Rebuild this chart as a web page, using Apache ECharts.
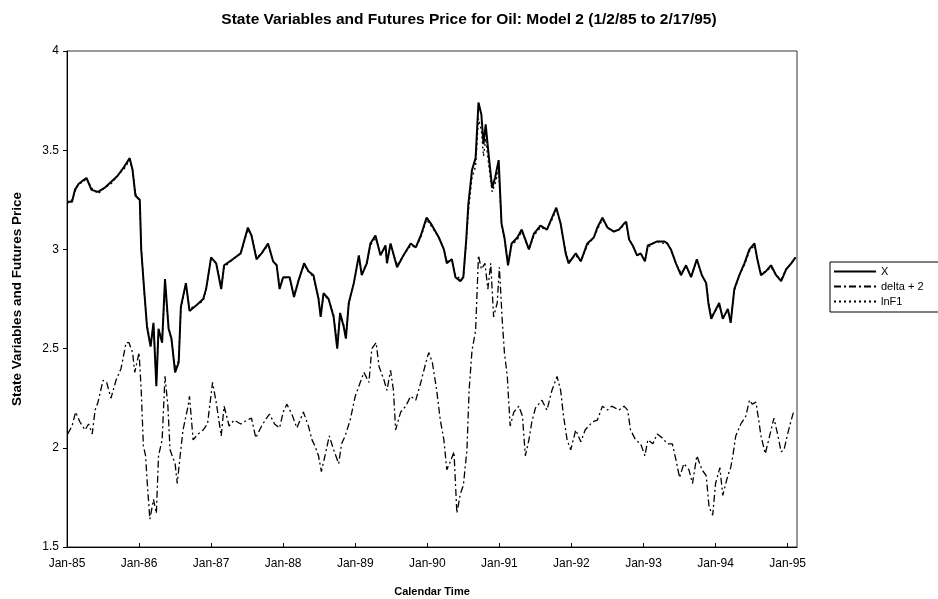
<!DOCTYPE html>
<html>
<head>
<meta charset="utf-8">
<script src="https://cdn.jsdelivr.net/npm/echarts@6/dist/echarts.min.js"></script>
<style>
  html, body { margin: 0; padding: 0; background: #fff; }
  #chart { width: 938px; height: 599px; }
</style>
</head>
<body>
<div id="chart"></div>
<script>
  // time in decimal years (1985.0 = Jan-85)
  var xTimes = [
    1985.00, 1985.07, 1985.11, 1985.16, 1985.23, 1985.27, 1985.34, 1985.43, 1985.52, 1985.61,
    1985.70, 1985.80, 1985.87, 1985.91, 1985.95, 1986.01, 1986.03, 1986.07, 1986.11, 1986.16,
    1986.20, 1986.24, 1986.27, 1986.32, 1986.36, 1986.41, 1986.45, 1986.50, 1986.55, 1986.58,
    1986.65, 1986.70, 1986.80, 1986.89, 1986.93, 1987.00, 1987.07, 1987.14, 1987.18, 1987.30,
    1987.41,
    1987.51, 1987.56, 1987.63, 1987.70, 1987.79, 1987.86, 1987.91, 1987.95, 1988.00, 1988.09,
    1988.15, 1988.21, 1988.29, 1988.35, 1988.42, 1988.49, 1988.52, 1988.56, 1988.63, 1988.70,
    1988.75, 1988.79, 1988.84, 1988.87, 1988.91, 1988.98, 1989.05, 1989.09, 1989.16, 1989.21,
    1989.28, 1989.35, 1989.42, 1989.44, 1989.49, 1989.58, 1989.67, 1989.77, 1989.84, 1989.91,
    1989.99,
    1990.05, 1990.16, 1990.23, 1990.27, 1990.34, 1990.39, 1990.46, 1990.50, 1990.54, 1990.57,
    1990.62, 1990.67, 1990.71, 1990.75, 1990.78, 1990.81, 1990.85, 1990.90, 1990.94, 1990.99,
    1991.03, 1991.07, 1991.12, 1991.17, 1991.25, 1991.31, 1991.41, 1991.48, 1991.57, 1991.66,
    1991.73, 1991.79, 1991.85, 1991.92, 1991.96, 1992.06, 1992.13, 1992.22, 1992.31, 1992.36,
    1992.43, 1992.50, 1992.59,
    1992.66, 1992.73, 1992.76, 1992.80, 1992.85, 1992.91, 1992.96, 1993.02, 1993.06, 1993.13,
    1993.19, 1993.29, 1993.33, 1993.38, 1993.45, 1993.52, 1993.59, 1993.66, 1993.74, 1993.81,
    1993.87, 1993.90, 1993.94, 1993.98, 1994.05, 1994.10, 1994.17, 1994.21, 1994.26, 1994.33,
    1994.40, 1994.47, 1994.54, 1994.58, 1994.63, 1994.70, 1994.77, 1994.84, 1994.91, 1994.98,
    1995.05, 1995.11
  ];

  var xValues = [
    3.24, 3.24, 3.30, 3.33, 3.35, 3.36, 3.30, 3.29, 3.31, 3.34,
    3.37, 3.42, 3.46, 3.40, 3.27, 3.25, 3.00, 2.80, 2.61, 2.51,
    2.63, 2.31, 2.60, 2.53, 2.85, 2.60, 2.55, 2.38, 2.43, 2.71,
    2.83, 2.69, 2.72, 2.75, 2.80, 2.96, 2.93, 2.80, 2.92, 2.95,
    2.98,
    3.11, 3.07, 2.95, 2.98, 3.03, 2.94, 2.92, 2.80, 2.86, 2.86,
    2.76, 2.84, 2.93, 2.89, 2.87, 2.75, 2.66, 2.78, 2.75, 2.66,
    2.50, 2.68, 2.61, 2.55, 2.73, 2.83, 2.97, 2.87, 2.93, 3.03,
    3.07, 2.97, 3.02, 2.93, 3.03, 2.91, 2.97, 3.03, 3.01, 3.07,
    3.16,
    3.13, 3.06, 3.00, 2.93, 2.95, 2.86, 2.84, 2.86, 3.05, 3.23,
    3.40, 3.46, 3.74, 3.68, 3.53, 3.63, 3.48, 3.31, 3.36, 3.45,
    3.13, 3.06, 2.92, 3.03, 3.06, 3.10, 3.00, 3.08, 3.12, 3.10,
    3.16, 3.21, 3.13, 2.98, 2.93, 2.98, 2.94, 3.03, 3.06, 3.11,
    3.16, 3.11, 3.09,
    3.10, 3.13, 3.14, 3.05, 3.02, 2.97, 2.98, 2.94, 3.02, 3.03,
    3.04, 3.04, 3.03, 3.00, 2.93, 2.87, 2.92, 2.86, 2.95, 2.87,
    2.83, 2.73, 2.65, 2.68, 2.73, 2.65, 2.70, 2.63, 2.80, 2.87,
    2.93, 3.00, 3.03, 2.95, 2.87, 2.89, 2.92, 2.87, 2.84, 2.90,
    2.93, 2.96
  ];

  var lnF1Values = [
    3.23, 3.25, 3.29, 3.33, 3.34, 3.36, 3.31, 3.28, 3.31, 3.33,
    3.37, 3.41, 3.45, 3.40, 3.28, 3.24, 3.01, 2.79, 2.62, 2.52,
    2.62, 2.34, 2.58, 2.54, 2.82, 2.61, 2.54, 2.40, 2.44, 2.70,
    2.82, 2.70, 2.72, 2.74, 2.80, 2.95, 2.93, 2.81, 2.91, 2.95,
    2.98,
    3.10, 3.07, 2.96, 2.98, 3.02, 2.94, 2.92, 2.81, 2.86, 2.85,
    2.77, 2.84, 2.92, 2.89, 2.86, 2.76, 2.67, 2.77, 2.75, 2.67,
    2.52, 2.67, 2.62, 2.56, 2.72, 2.83, 2.96, 2.88, 2.93, 3.02,
    3.06, 2.98, 3.01, 2.94, 3.02, 2.92, 2.97, 3.02, 3.01, 3.06,
    3.15,
    3.12, 3.06, 3.00, 2.94, 2.95, 2.87, 2.85, 2.86, 3.03, 3.19,
    3.36, 3.42, 3.66, 3.60, 3.47, 3.56, 3.43, 3.29, 3.33, 3.40,
    3.12, 3.05, 2.93, 3.02, 3.05, 3.09, 3.00, 3.07, 3.11, 3.10,
    3.15, 3.20, 3.13, 2.99, 2.94, 2.97, 2.94, 3.02, 3.06, 3.10,
    3.15, 3.11, 3.09,
    3.10, 3.12, 3.13, 3.05, 3.02, 2.97, 2.98, 2.95, 3.01, 3.03,
    3.04, 3.03, 3.03, 3.00, 2.93, 2.88, 2.91, 2.87, 2.94, 2.87,
    2.83, 2.74, 2.66, 2.68, 2.72, 2.66, 2.69, 2.64, 2.79, 2.87,
    2.92, 2.99, 3.02, 2.95, 2.88, 2.89, 2.91, 2.87, 2.85, 2.90,
    2.93, 2.96
  ];

  var deltaTimes = [
    1985.01, 1985.07, 1985.12, 1985.18, 1985.25, 1985.30, 1985.35, 1985.39, 1985.43, 1985.50,
    1985.55, 1985.61, 1985.68, 1985.75, 1985.82, 1985.86, 1985.91, 1985.94, 1986.00, 1986.03,
    1986.06, 1986.09, 1986.12, 1986.15, 1986.20, 1986.24, 1986.27, 1986.32, 1986.36, 1986.40,
    1986.43, 1986.50, 1986.53, 1986.57, 1986.61, 1986.68, 1986.70, 1986.75, 1986.82, 1986.89,
    1986.95, 1987.02, 1987.07, 1987.14, 1987.18, 1987.25, 1987.32, 1987.41, 1987.50,
    1987.56, 1987.62, 1987.70, 1987.77, 1987.81, 1987.88, 1987.95, 1988.00, 1988.05, 1988.12,
    1988.19, 1988.28, 1988.35, 1988.40, 1988.44, 1988.49, 1988.53, 1988.58, 1988.64, 1988.70,
    1988.77, 1988.81, 1988.86, 1988.93, 1989.00, 1989.07, 1989.12, 1989.19, 1989.23, 1989.29,
    1989.33, 1989.40, 1989.44, 1989.49, 1989.53, 1989.56, 1989.63, 1989.70, 1989.77, 1989.84,
    1989.91, 1989.98, 1990.02,
    1990.07, 1990.13, 1990.18, 1990.23, 1990.27, 1990.32, 1990.37, 1990.41, 1990.46, 1990.50,
    1990.55, 1990.58, 1990.62, 1990.67, 1990.71, 1990.75, 1990.80, 1990.84, 1990.88, 1990.92,
    1990.97, 1991.00, 1991.04, 1991.07, 1991.11, 1991.13, 1991.15, 1991.20, 1991.27, 1991.32,
    1991.36, 1991.41, 1991.45, 1991.50, 1991.59, 1991.66, 1991.73, 1991.80, 1991.85, 1991.89,
    1991.94, 1991.99, 1992.06, 1992.13, 1992.19, 1992.29, 1992.36, 1992.43, 1992.50, 1992.56,
    1992.66, 1992.73, 1992.78, 1992.82, 1992.89, 1992.96, 1993.02, 1993.06, 1993.13, 1993.19,
    1993.26, 1993.33, 1993.40, 1993.45, 1993.50, 1993.56, 1993.63, 1993.68, 1993.74, 1993.81,
    1993.87, 1993.91, 1993.96, 1994.00, 1994.06, 1994.10, 1994.17, 1994.21, 1994.24, 1994.28,
    1994.35, 1994.42, 1994.47, 1994.51, 1994.56, 1994.59, 1994.63, 1994.69, 1994.75, 1994.81,
    1994.86, 1994.91, 1994.95, 1995.00, 1995.05, 1995.09
  ];

  var deltaValues = [
    2.07, 2.11, 2.18, 2.13, 2.09, 2.12, 2.07, 2.19, 2.23, 2.34,
    2.33, 2.25, 2.34, 2.40, 2.53, 2.53, 2.48, 2.38, 2.48, 2.29,
    2.01, 1.96, 1.79, 1.64, 1.74, 1.67, 1.96, 2.04, 2.36, 2.21,
    1.99, 1.92, 1.82, 1.96, 2.09, 2.21, 2.26, 2.04, 2.07, 2.09,
    2.12, 2.33, 2.23, 2.06, 2.21, 2.11, 2.14, 2.12, 2.14,
    2.15, 2.05, 2.11, 2.15, 2.17, 2.12, 2.10, 2.18, 2.22, 2.17,
    2.10, 2.18, 2.11, 2.04, 2.01, 1.96, 1.88, 1.96, 2.06, 1.99,
    1.92, 2.02, 2.06, 2.14, 2.26, 2.33, 2.38, 2.33, 2.50, 2.53,
    2.41, 2.34, 2.29, 2.39, 2.29, 2.09, 2.18, 2.21, 2.26, 2.24,
    2.33, 2.43, 2.48,
    2.43, 2.29, 2.14, 2.04, 1.89, 1.93, 1.98, 1.67, 1.77, 1.81,
    1.99, 2.29, 2.49, 2.59, 2.97, 2.90, 2.93, 2.80, 2.93, 2.66,
    2.73, 2.91, 2.64, 2.48, 2.36, 2.23, 2.11, 2.18, 2.21, 2.16,
    1.96, 2.04, 2.13, 2.20, 2.24, 2.19, 2.29, 2.36, 2.29, 2.16,
    2.04, 1.99, 2.09, 2.03, 2.09, 2.13, 2.14, 2.21, 2.19, 2.21,
    2.19, 2.21, 2.19, 2.09, 2.04, 2.02, 1.96, 2.04, 2.02, 2.07,
    2.05, 2.02, 2.02, 1.94, 1.85, 1.92, 1.89, 1.82, 1.96, 1.89,
    1.86, 1.70, 1.66, 1.82, 1.90, 1.76, 1.86, 1.90, 1.96, 2.06,
    2.12, 2.16, 2.24, 2.22, 2.23, 2.16, 2.06, 1.97, 2.06, 2.15,
    2.07, 1.98, 1.99, 2.07, 2.14, 2.19
  ];

  var yTicks = [1.5, 2, 2.5, 3, 3.5, 4];

  function pairs(ts, vs) {
    return ts.map(function (t, i) { return [t, vs[i]]; });
  }

  var font = '"Liberation Sans", Arial, sans-serif';
  var chart = echarts.init(document.getElementById('chart'));

  chart.setOption({
    animation: false,
    backgroundColor: '#fff',
    title: {
      text: 'State Variables and Futures Price for Oil: Model 2 (1/2/85 to 2/17/95)',
      left: 'center',
      top: 7,
      textStyle: { fontFamily: font, fontSize: 15.5, fontWeight: 'bold', color: '#000' }
    },
    legend: {
      orient: 'vertical',
      left: 830,
      top: 262,
      itemWidth: 42,
      itemHeight: 10,
      itemGap: 4,
      padding: [4, 20, 5, 3],
      borderColor: '#000',
      borderWidth: 1,
      itemStyle: { color: 'rgba(0,0,0,0)', borderWidth: 0 },
      textStyle: { fontFamily: font, fontSize: 11, color: '#000' },
      data: ['X', 'delta + 2', 'lnF1']
    },
    grid: {
      left: 67,
      right: 141,
      top: 51,
      bottom: 52,
      outerBoundsMode: 'none',
      show: true,
      borderColor: '#333',
      borderWidth: 1
    },
    xAxis: {
      type: 'value',
      min: 1985,
      max: 1995.13,
      interval: 1,
      name: 'Calendar Time',
      nameLocation: 'middle',
      nameGap: 39,
      nameTextStyle: { fontFamily: font, fontSize: 11, fontWeight: 'bold', color: '#000' },
      axisLine: { lineStyle: { color: '#000' } },
      axisTick: { inside: true, length: 4, lineStyle: { color: '#000' } },
      splitLine: { show: false },
      axisLabel: {
        margin: 11,
        showMaxLabel: false,
        fontFamily: font,
        fontSize: 12,
        color: '#000',
        formatter: function (v) {
          if (Math.abs(v - Math.round(v)) > 0.001) return '';
          return 'Jan-' + String(Math.round(v)).slice(2);
        }
      }
    },
    yAxis: {
      type: 'value',
      min: yTicks[0],
      max: yTicks[yTicks.length - 1],
      interval: 0.5,
      name: 'State Variables and Futures Price',
      nameLocation: 'middle',
      nameGap: 43,
      nameTextStyle: { fontFamily: font, fontSize: 13.5, fontWeight: 'bold', color: '#000' },
      axisLine: { show: true, lineStyle: { color: '#000' } },
      axisTick: { show: true, length: 4, lineStyle: { color: '#000' } },
      splitLine: { show: false },
      axisLabel: { margin: 8, fontFamily: font, fontSize: 12, color: '#000' }
    },
    series: [
      {
        name: 'X',
        type: 'line',
        symbol: 'none',
        data: pairs(xTimes, xValues),
        lineStyle: { color: '#000', width: 2 },
        itemStyle: { color: '#000' }
      },
      {
        name: 'delta + 2',
        type: 'line',
        symbol: 'none',
        data: pairs(deltaTimes, deltaValues),
        lineStyle: { color: '#000', width: 1.3, type: [7, 3, 2, 3] },
        itemStyle: { color: '#000' }
      },
      {
        name: 'lnF1',
        type: 'line',
        symbol: 'none',
        data: pairs(xTimes, lnF1Values),
        lineStyle: { color: '#000', width: 1.3, type: [2, 3] },
        itemStyle: { color: '#000' }
      }
    ]
  });
</script>
</body>
</html>
